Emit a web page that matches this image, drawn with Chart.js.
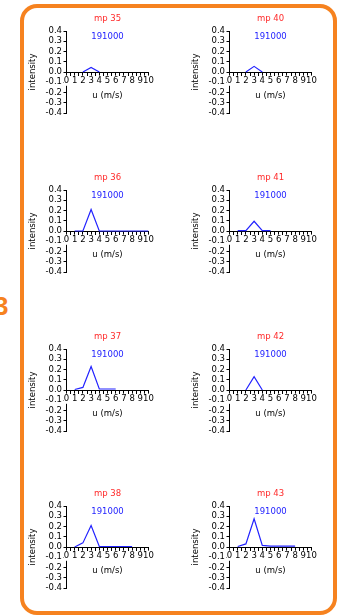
<!DOCTYPE html>
<html>
<head>
<meta charset="utf-8">
<script src="https://cdn.jsdelivr.net/npm/chart.js@4/dist/chart.umd.min.js"></script>
<style>
  html, body { margin: 0; padding: 0; background: #fff; width: 338px; height: 616px; overflow: hidden; }
  body { position: relative; }
  .frame { position: absolute; left: 20px; top: 4px; width: 317px; height: 611px; box-sizing: border-box;
           border: 4px solid #f6821f; border-radius: 17px; }
  .tag { position: absolute; left: -6px; top: 291px; font: bold 26px 'Liberation Sans', Arial, sans-serif; color: #f6821f; line-height: 30px; }
  canvas { position: absolute; }
</style>
</head>
<body>
<div class="frame"></div>
<div class="tag">3</div>
<script>
// Measuring points, one small panel each (u in m/s, normalised intensity)
const panelTitles = ['mp 35', 'mp 40', 'mp 36', 'mp 41', 'mp 37', 'mp 42', 'mp 38', 'mp 43'];
const runLabel = '191000';

const speedsMp35 = [2, 3, 4];
const intensityMp35 = [0, 0.045, 0];

const speedsMp40 = [2, 3, 4];
const intensityMp40 = [0, 0.055, 0];

const speedsMp36 = [1, 2, 3, 4, 5, 6, 7, 8, 9, 10];
const intensityMp36 = [0, 0, 0.21, 0, 0, 0, 0, 0, 0, 0];

const speedsMp41 = [1, 2, 3, 4, 5];
const intensityMp41 = [0.004, 0.004, 0.095, 0.004, 0.004];

const speedsMp37 = [1, 2, 3, 4, 5, 6];
const intensityMp37 = [0.005, 0.025, 0.23, 0.01, 0.01, 0.01];

const speedsMp42 = [2, 3, 4];
const intensityMp42 = [0, 0.13, 0];

const speedsMp38 = [1, 2, 3, 4, 5, 6, 7, 8];
const intensityMp38 = [0, 0.04, 0.21, 0.005, 0.005, 0.005, 0.005, 0.005];

const speedsMp43 = [1, 2, 3, 4, 5, 6, 7, 8];
const intensityMp43 = [0.005, 0.03, 0.275, 0.015, 0.008, 0.008, 0.008, 0.008];

const panelSpeeds = [speedsMp35, speedsMp40, speedsMp36, speedsMp41, speedsMp37, speedsMp42, speedsMp38, speedsMp43];
const panelIntensities = [intensityMp35, intensityMp40, intensityMp36, intensityMp41, intensityMp37, intensityMp42, intensityMp38, intensityMp43];

// Axis ticks
const speedTicks = [0, 1, 2, 3, 4, 5, 6, 7, 8, 9, 10];
const intensityTicks = [0.4, 0.3, 0.2, 0.1, 0.0, -0.1, -0.2, -0.3, -0.4];

const RED = '#ff2a2a';
const BLUE = '#2323ff';
const FONT = "'DejaVu Sans', Verdana, sans-serif";
const colLeft = [24, 187];
const rowTop = [8, 167, 326, 483];

function tickFont() { return { family: FONT, size: 8.5 }; }

function makePanel(idx) {
  const col = idx % 2, row = Math.floor(idx / 2);
  const cv = document.createElement('canvas');
  cv.width = 146; cv.height = 135;
  cv.style.left = colLeft[col] + 'px';
  cv.style.top = rowTop[row] + 'px';
  cv.style.width = '146px'; cv.style.height = '135px';
  document.body.appendChild(cv);

  const u = panelSpeeds[idx];
  const inten = panelIntensities[idx];

  new Chart(cv, {
    type: 'line',
    data: {
      datasets: [{
        data: u.map((x, i) => ({ x: x, y: inten[i] })),
        borderColor: BLUE,
        borderWidth: 1.2,
        pointRadius: 0,
        tension: 0,
        fill: false
      }]
    },
    options: {
      responsive: false,
      animation: false,
      devicePixelRatio: 1,
      // the x axis sits on y = 0 and takes no layout space, so the bottom padding holds its labels and title
      layout: { padding: { left: 0, right: 21.5, top: 0, bottom: 30 } },
      plugins: {
        legend: { display: false },
        tooltip: { enabled: false },
        title: {
          display: true, text: panelTitles[idx], color: RED, fullSize: false,
          font: { family: FONT, size: 8.5, weight: 'normal' },
          padding: { top: 5.9, bottom: 0 }
        },
        subtitle: {
          display: true, text: runLabel, color: BLUE, fullSize: false,
          font: { family: FONT, size: 8.5, weight: 'normal' },
          padding: { top: 7.3, bottom: -10.6 }
        }
      },
      scales: {
        x: {
          type: 'linear',
          position: { y: 0 },
          min: 0, max: 10,
          afterFit: (s) => { s.height = 30; },
          ticks: {
            stepSize: 0.5,
            autoSkip: false, maxRotation: 0, minRotation: 0,
            callback: (v) => {
              const n = Math.round(v);
              return (Math.abs(v - n) < 1e-6 && speedTicks.includes(n)) ? String(n) : '';
            },
            font: tickFont(), color: '#000', padding: 0.6,
            showLabelBackdrop: true, backdropColor: '#fff', backdropPadding: 0, z: 1
          },
          grid: { drawOnChartArea: false, drawTicks: true, tickLength: 3, color: '#000', lineWidth: 1 },
          border: { display: true, color: '#000', width: 1 },
          title: { display: true, text: 'u (m/s)', color: '#000', font: tickFont(), padding: { top: 0, bottom: 0.9 } }
        },
        y: {
          type: 'linear',
          min: -0.4, max: 0.4,
          afterFit: (s) => { s.width = 42.5; },
          ticks: {
            stepSize: 0.1, autoSkip: false,
            callback: (v) => {
              const t = intensityTicks.find(k => Math.abs(k - v) < 1e-6);
              return t === undefined ? '' : (Math.abs(t) < 1e-9 ? '0.0' : t.toFixed(1));
            },
            font: tickFont(), color: '#000', padding: 1.5
          },
          grid: { drawOnChartArea: false, drawTicks: true, tickLength: 3, color: '#000', lineWidth: 1 },
          border: { display: true, color: '#000', width: 1 },
          title: { display: true, text: 'intensity', color: '#000', font: tickFont(), padding: { top: 3.9, bottom: 0 } }
        }
      }
    }
  });
}

for (let i = 0; i < panelTitles.length; i++) makePanel(i);
</script>
</body>
</html>
